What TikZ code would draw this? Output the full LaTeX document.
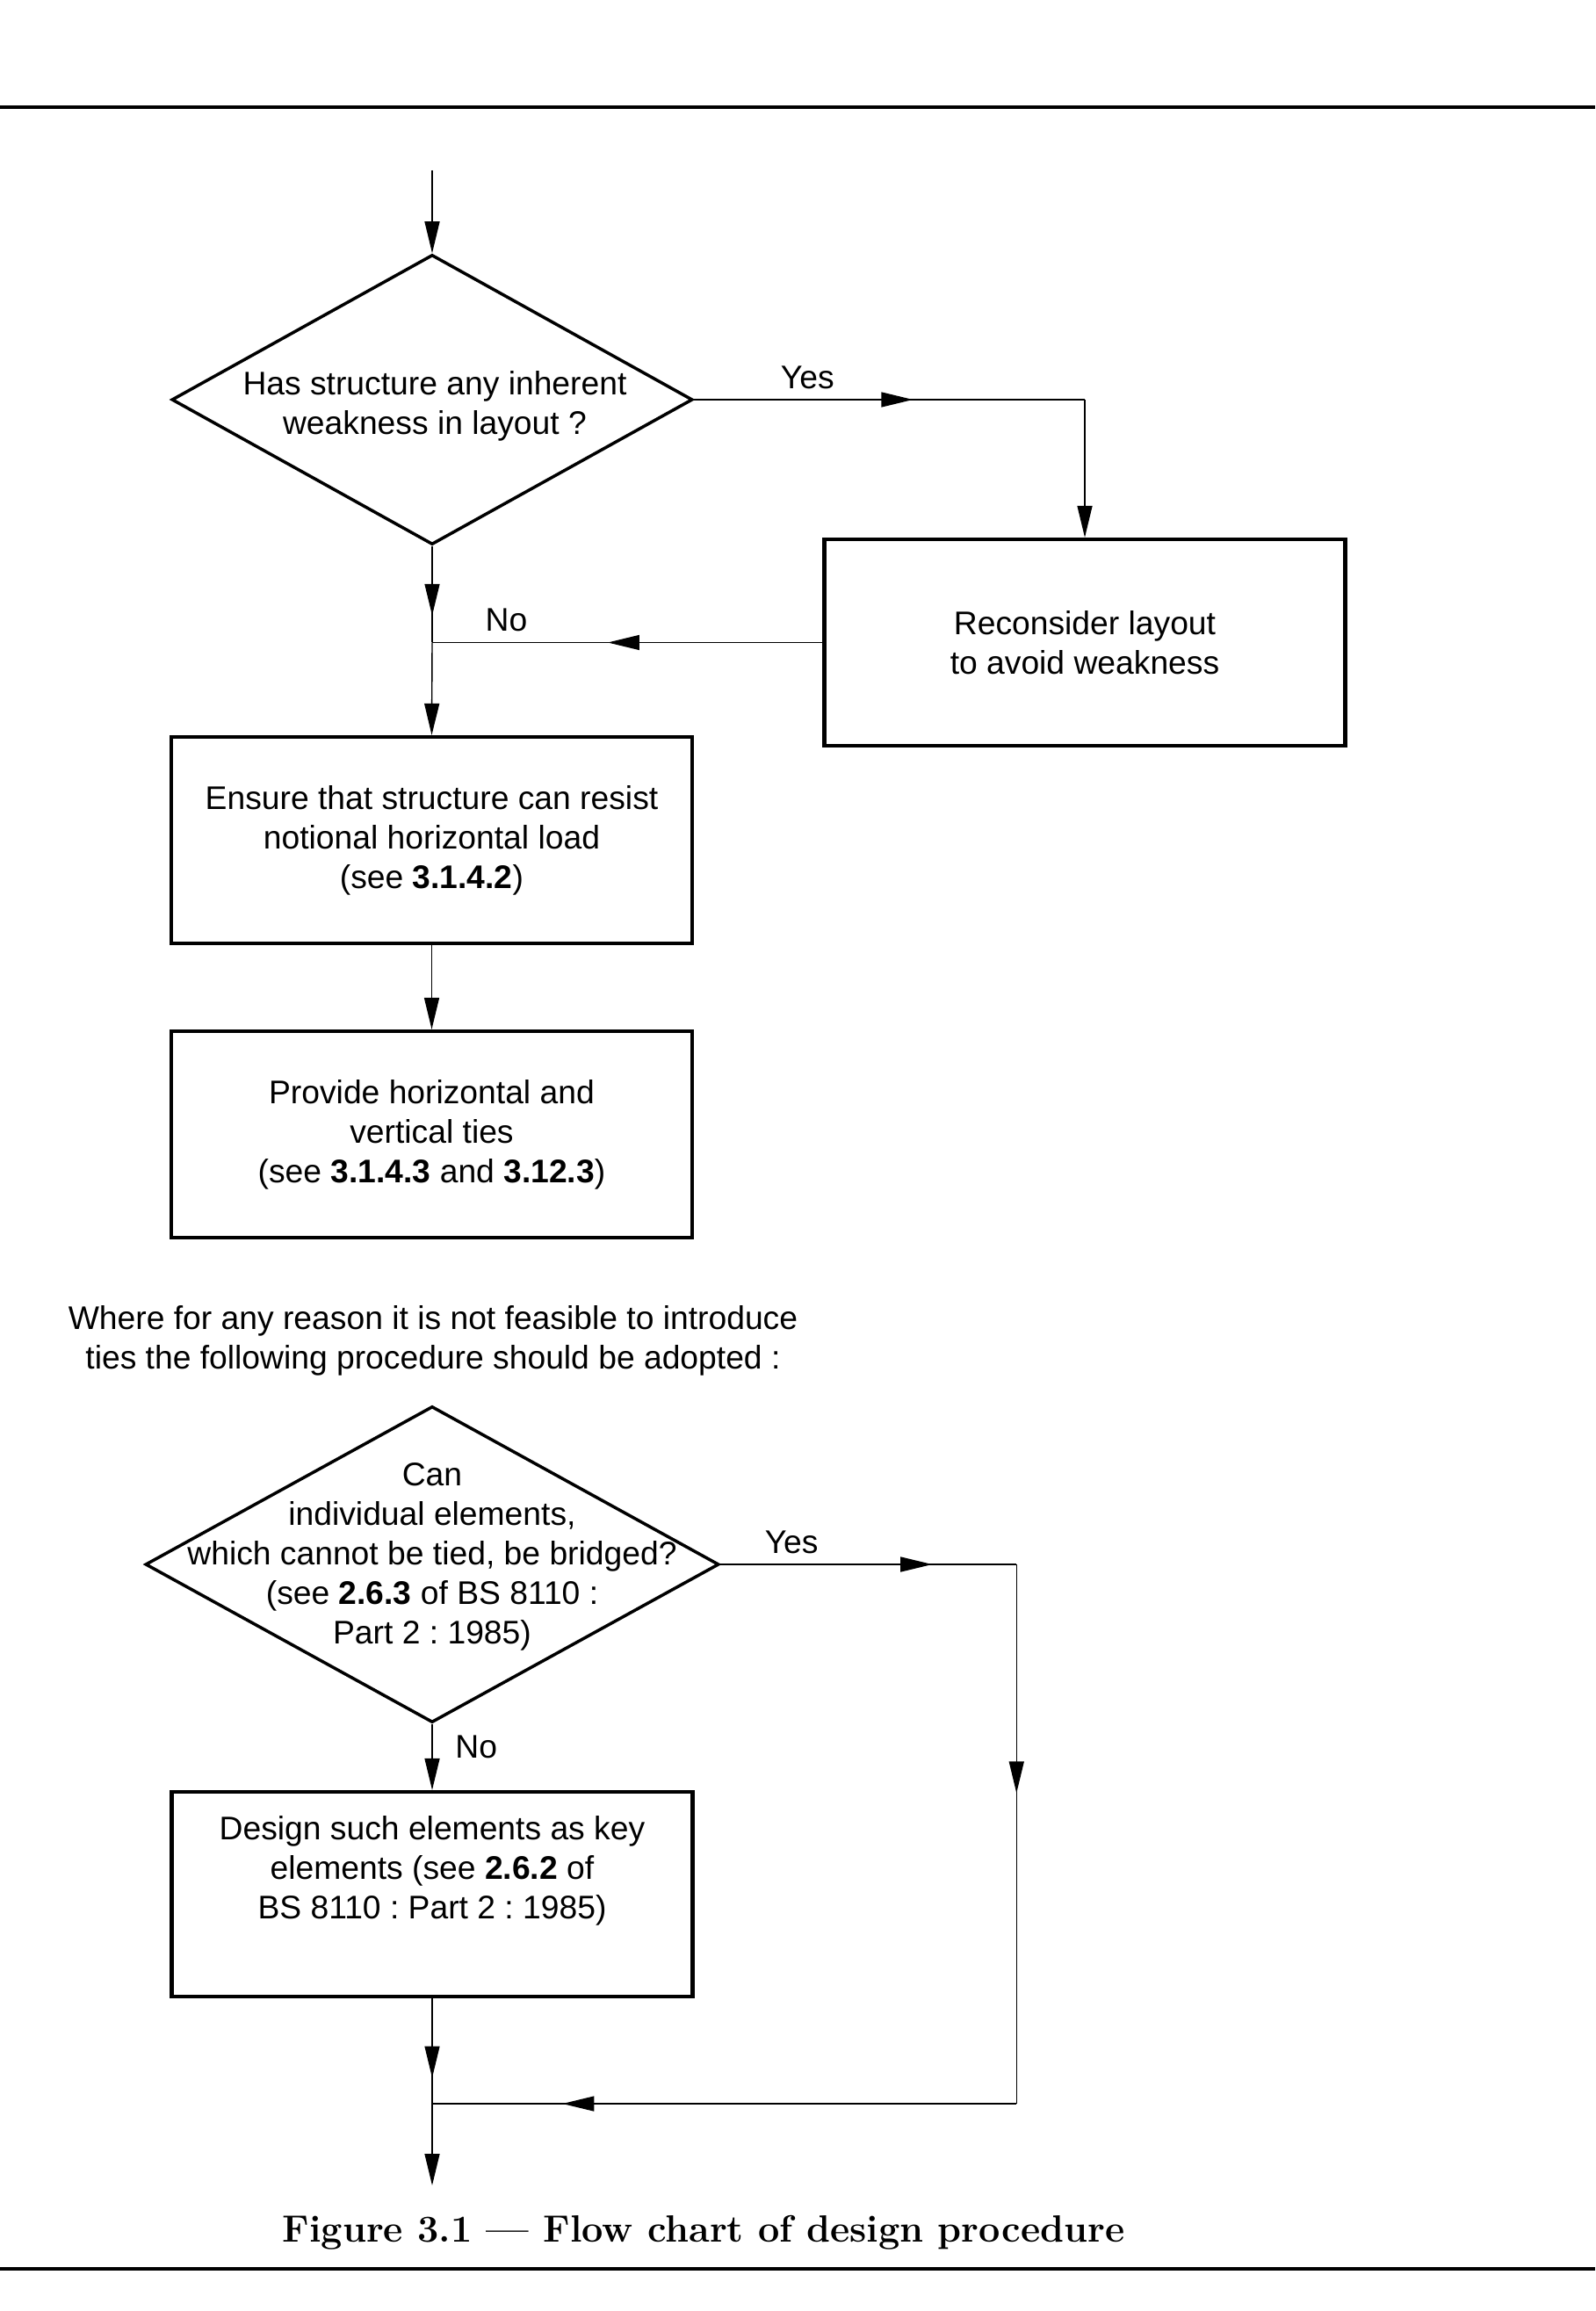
\documentclass[tikz,border=0pt]{standalone}
\usepackage{fontspec}
\setsansfont{Liberation Sans}
\usetikzlibrary{arrows.meta,calc,shapes.geometric,decorations.markings}
\frenchspacing

\begin{document}
\begin{tikzpicture}[>={Triangle[length=3.6mm,width=1.7mm]},
	font=\sffamily\fontsize{10.6}{12.8}\selectfont,
	]

	\tikzset{middle arrow/.style={
				postaction=decorate,
				decoration={
						markings,
						mark=at position #1 with {\arrow{>}}}},
		middle arrow/.default=0.5
	}
	\tikzset{decision/.style={
				draw,diamond,line width=1pt,inner sep=0pt}
	}
	\tikzset{process/.style={
				draw,rectangle,line width=1.2pt,inner sep=0pt,align=center,
				minimum width=5.93cm,minimum height=2.35cm}
	}
	\tikzset{textblock/.style={align=center,inner sep=0pt}}

	\useasboundingbox (0,0) rectangle (18.16,-26.31);

	% page rules
	\draw[line width=0.9pt] (0,-1.22) -- (18.16,-1.22);
	\draw[line width=0.9pt] (0,-25.83) -- (18.16,-25.83);

	\coordinate (start) at (4.92,-1.94);

	\node[decision,minimum width=5.93cm,minimum height=3.30cm] (weak) at (4.92,-4.55) {};
	\node[textblock] (weak text) at (4.95,-4.62) {Has structure any inherent\\weakness in layout ?};

	\node[process] (reconsider) at (12.35,-7.315) {Reconsider layout\\to avoid weakness};
	\node[process] (ensure) at (4.915,-9.565) {Ensure that structure can resist\\notional horizontal load\\(see \textbf{3.1.4.2})};
	\node[process] (provide) at (4.915,-12.915) {Provide horizontal and\\vertical ties\\(see \textbf{3.1.4.3} and \textbf{3.12.3})};

	\node[textblock] (note) at (4.93,-15.26) {Where for any reason it is not feasible to introduce\\ties the following procedure should be adopted :};

	\node[decision,minimum width=6.53cm,minimum height=3.60cm] (bridge) at (4.92,-17.81) {};
	\node[textblock] (bridge text) at (4.92,-17.72) {Can\\individual elements,\\which cannot be tied, be bridged?\\(see \textbf{2.6.3} of BS 8110 :\\Part 2 : 1985)};

	\node[process,minimum height=2.33cm] (key) at (4.92,-21.565) {};
	\node[textblock] (key text) at (4.92,-21.30) {Design such elements as key\\elements (see \textbf{2.6.2} of\\BS 8110 : Part 2 : 1985)};

	% first decision
	\draw[->] (start) -- (weak.north);

	\coordinate (yes turn) at (weak.east -| reconsider.north);
	\draw[middle arrow=0.56] (weak.east) -- (yes turn) node[pos=0.29,above] (yes label) {Yes};
	\draw[->] (yes turn) -- (reconsider.north);

	\coordinate (no join) at (weak.south |- reconsider.west);
	\draw[middle arrow=0.72] (weak.south) -- (no join);
	\draw[middle arrow=0.55] (reconsider.west) -- (no join) node[pos=0.81,above] (no label) {No};
	\draw[->] (no join) -- (ensure.north);

	\draw[->] (ensure.south) -- (provide.north);

	% second decision
	\coordinate (yes turn2) at ($(bridge.east)+(3.37,0)$);
	\coordinate (merge) at (4.92,-23.95);
	\coordinate (yes down) at (yes turn2 |- merge);
	\coordinate (finish) at (4.92,-24.88);

	\draw[middle arrow=0.715] (bridge.east) -- (yes turn2) node[pos=0.24,above] (yes label2) {Yes};
	\draw[middle arrow=0.424] (yes turn2) -- (yes down);
	\draw[middle arrow=0.777] (yes down) -- (merge);

	\draw[->] (bridge.south) -- (key.north) node[pos=0.35,right=4pt] (no label2) {No};
	\draw[middle arrow=0.754] (key.south) -- (merge);
	\draw[->] (merge) -- (finish);

	\node[font=\rmfamily\bfseries\fontsize{12.3}{14}\selectfont] (caption) at (8.01,-25.42) {Figure 3.1 --- Flow chart of design procedure};

\end{tikzpicture}
\end{document}
